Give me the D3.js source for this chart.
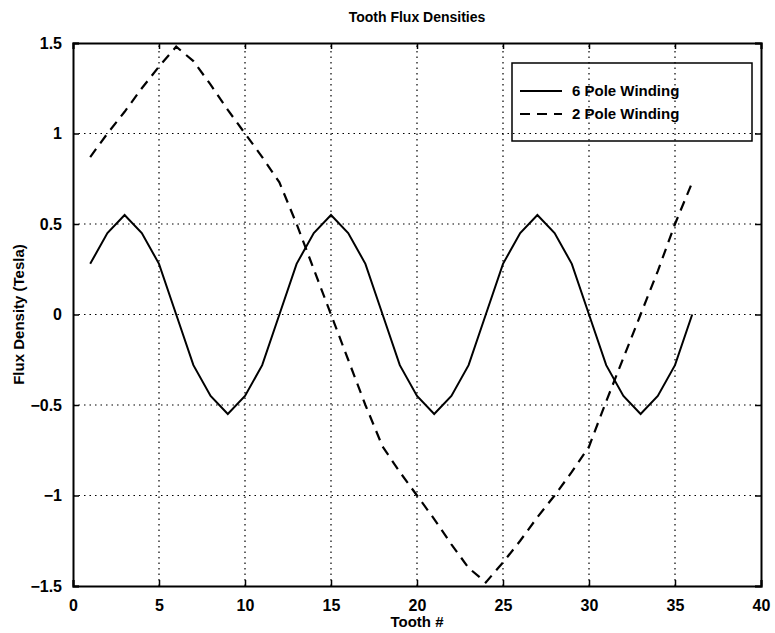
<!DOCTYPE html>
<html>
<head>
<meta charset="utf-8">
<script src="https://cdn.jsdelivr.net/npm/d3@7"></script>
<style>
  body { margin: 0; background: #fff; }
  text { font-family: "Liberation Sans", Arial, sans-serif; fill: #000; }
</style>
</head>
<body>
<div id="chart"></div>
<script>
// tooth numbers 1..36
const teeth = [1,2,3,4,5,6,7,8,9,10,11,12,13,14,15,16,17,18,
               19,20,21,22,23,24,25,26,27,28,29,30,31,32,33,34,35,36];

// flux density per tooth (Tesla)
const sixPole = [0.28,0.45,0.55,0.45,0.28,0,-0.28,-0.45,-0.55,-0.45,-0.28,0,
                 0.28,0.45,0.55,0.45,0.28,0,-0.28,-0.45,-0.55,-0.45,-0.28,0,
                 0.28,0.45,0.55,0.45,0.28,0,-0.28,-0.45,-0.55,-0.45,-0.28,0];
const twoPole = [0.87,1.0,1.12,1.25,1.37,1.48,1.40,1.27,1.13,1.0,0.87,0.73,
                 0.5,0.25,0,-0.25,-0.5,-0.73,-0.87,-1.0,-1.13,-1.27,-1.40,-1.48,
                 -1.37,-1.25,-1.12,-1.0,-0.87,-0.73,-0.48,-0.24,0,0.24,0.5,0.73];

const xTicks = [0,5,10,15,20,25,30,35,40];
const yTicks = [-1.5,-1,-0.5,0,0.5,1,1.5];
const legendLabels = ["6 Pole Winding", "2 Pole Winding"];

const width = 775, height = 633;
const margin = { top: 43, right: 14, bottom: 47, left: 73 };

const svg = d3.select('#chart').append('svg')
  .attr('width', width)
  .attr('height', height);

const x = d3.scaleLinear().domain([0, 40]).range([margin.left, width - margin.right]);
const y = d3.scaleLinear().domain([-1.5, 1.5]).range([height - margin.bottom, margin.top]);

// grid
svg.append('g').selectAll('line.gx')
  .data(xTicks.slice(1, -1))
  .enter().append('line')
  .attr('x1', d => x(d)).attr('x2', d => x(d))
  .attr('y1', y(-1.5)).attr('y2', y(1.5))
  .attr('stroke', '#000').attr('stroke-width', 1.2)
  .attr('stroke-dasharray', '1.5,4');

svg.append('g').selectAll('line.gy')
  .data(yTicks.slice(1, -1))
  .enter().append('line')
  .attr('x1', x(0)).attr('x2', x(40))
  .attr('y1', d => y(d)).attr('y2', d => y(d))
  .attr('stroke', '#000').attr('stroke-width', 1.2)
  .attr('stroke-dasharray', '1.5,4');

// axes with inward ticks on all four sides
const fmt = d => d < 0 ? '\u2212' + Math.abs(d) : String(d);
const tickLen = -6;

const bottom = svg.append('g')
  .attr('transform', `translate(0,${y(-1.5)})`)
  .call(d3.axisBottom(x).tickValues(xTicks).tickSize(tickLen).tickPadding(14).tickFormat(fmt));
const left = svg.append('g')
  .attr('transform', `translate(${x(0)},0)`)
  .call(d3.axisLeft(y).tickValues(yTicks).tickSize(tickLen).tickPadding(11).tickFormat(fmt));
svg.append('g')
  .attr('transform', `translate(0,${y(1.5)})`)
  .call(d3.axisTop(x).tickValues(xTicks).tickSize(tickLen).tickFormat(''));
svg.append('g')
  .attr('transform', `translate(${x(40)},0)`)
  .call(d3.axisRight(y).tickValues(yTicks).tickSize(tickLen).tickFormat(''));

svg.selectAll('.domain').attr('stroke', '#000').attr('stroke-width', 2);
svg.selectAll('.tick line').attr('stroke', '#000').attr('stroke-width', 1.5);
svg.selectAll('.tick text')
  .style('font-size', '16px').style('font-weight', 'bold');

// series
const line = vals => d3.line()
  .x((d, i) => x(teeth[i]))
  .y(d => y(d))(vals);

svg.append('path')
  .attr('d', line(sixPole))
  .attr('fill', 'none').attr('stroke', '#000').attr('stroke-width', 2);

svg.append('path')
  .attr('d', line(twoPole))
  .attr('fill', 'none').attr('stroke', '#000').attr('stroke-width', 2.2)
  .attr('stroke-dasharray', '10,7');

// legend
const lg = svg.append('g').attr('transform', 'translate(512,63)');
lg.append('rect')
  .attr('width', 240).attr('height', 78)
  .attr('fill', 'none').attr('stroke', '#000').attr('stroke-width', 1.5);
legendLabels.forEach((label, i) => {
  const ly = 28 + i * 23;
  lg.append('line')
    .attr('x1', 8).attr('x2', 50).attr('y1', ly).attr('y2', ly)
    .attr('stroke', '#000').attr('stroke-width', 2)
    .attr('stroke-dasharray', i === 0 ? null : '10,7');
  lg.append('text')
    .attr('x', 60).attr('y', ly + 5)
    .style('font-size', '15px').style('font-weight', 'bold')
    .text(label);
});

// titles
svg.append('text')
  .attr('x', (x(0) + x(40)) / 2).attr('y', 22)
  .attr('text-anchor', 'middle')
  .style('font-size', '14px').style('font-weight', 'bold')
  .text('Tooth Flux Densities');

svg.append('text')
  .attr('x', (x(0) + x(40)) / 2).attr('y', 627)
  .attr('text-anchor', 'middle')
  .style('font-size', '15px').style('font-weight', 'bold')
  .text('Tooth #');

svg.append('text')
  .attr('transform', `translate(24,${y(0)}) rotate(-90)`)
  .attr('text-anchor', 'middle')
  .style('font-size', '15px').style('font-weight', 'bold')
  .text('Flux Density (Tesla)');
</script>
</body>
</html>
